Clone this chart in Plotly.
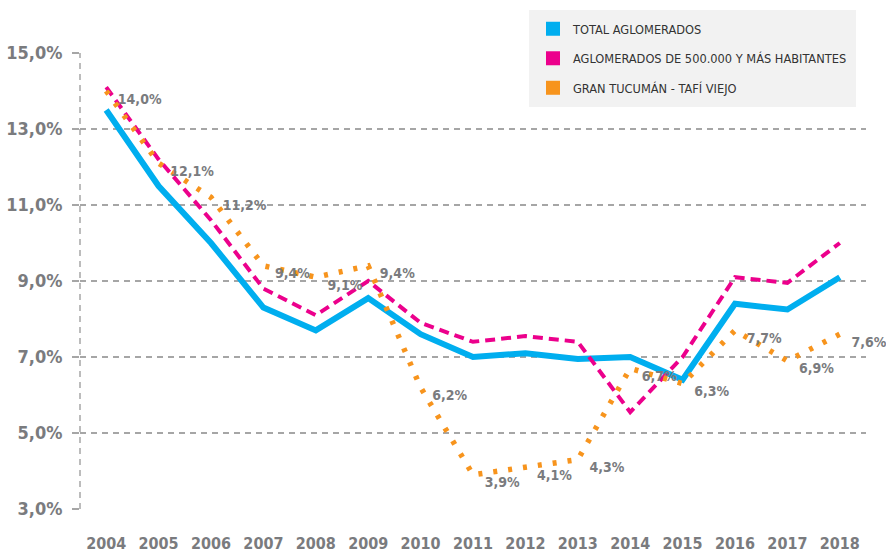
import plotly.graph_objects as go

PCT = chr(37)

years = ["2004", "2005", "2006", "2007", "2008", "2009", "2010", "2011",
         "2012", "2013", "2014", "2015", "2016", "2017", "2018"]
total_aglomerados = [13.5, 11.5, 10.0, 8.3, 7.7, 8.55, 7.6, 7.0, 7.1, 6.95, 7.0, 6.4, 8.4, 8.25, 9.1]
aglomerados_500k = [14.1, 12.2, 10.6, 8.8, 8.1, 9.0, 7.9, 7.4, 7.55, 7.4, 5.55, 7.0, 9.1, 8.95, 10.0]
gran_tucuman = [14.0, 12.1, 11.2, 9.4, 9.1, 9.4, 6.2, 3.9, 4.1, 4.3, 6.7, 6.3, 7.7, 6.9, 7.6]
series_names = ["TOTAL AGLOMERADOS", "AGLOMERADOS DE 500.000 Y MÁS HABITANTES",
                "GRAN TUCUMÁN - TAFÍ VIEJO"]
y_ticks = [3, 5, 7, 9, 11, 13, 15]


def fmt(v):
    return "{:.1f}".format(v).replace(".", ",") + PCT


# leading blank line nudges each label slightly below its point, as in the original
tucuman_labels = [" <br>" + fmt(v) for v in gran_tucuman]
y_tick_text = [fmt(v) for v in y_ticks]

BLUE = "#00aeef"
MAGENTA = "#ec008c"
ORANGE = "#f7941d"
GRAY_TXT = "#7a7b7e"
GRID = "#a6a6a6"
LEG_BG = "#f2f2f2"
FONT = "Liberation Sans Narrow, DejaVu Sans Condensed, Arial Narrow, sans-serif"

fig = go.Figure()

fig.add_trace(go.Scatter(x=years, y=total_aglomerados, mode="lines",
                         line=dict(color=BLUE, width=6), showlegend=False))
fig.add_trace(go.Scatter(x=years, y=aglomerados_500k, mode="lines",
                         line=dict(color=MAGENTA, width=4, dash="10px,6px"), showlegend=False))
fig.add_trace(go.Scatter(x=years, y=gran_tucuman, mode="lines",
                         line=dict(color=ORANGE, width=5.5, dash="4px,11px"), showlegend=False))
fig.add_trace(go.Scatter(x=years, y=gran_tucuman, mode="markers+text",
                         text=tucuman_labels, textposition="middle right",
                         marker=dict(size=17, color="rgba(0,0,0,0)"),
                         textfont=dict(family=FONT, size=14, color=GRAY_TXT, weight="bold"),
                         cliponaxis=False, showlegend=False, hoverinfo="skip"))

# legend entries (square swatches)
for name, col in zip(series_names, [BLUE, MAGENTA, ORANGE]):
    fig.add_trace(go.Scatter(x=[None], y=[None], mode="markers", name=name,
                             legendgroup=name,
                             marker=dict(symbol="square", size=14, color=col)))

fig.update_layout(
    width=886, height=556,
    margin=dict(l=80, r=20, t=53, b=47, autoexpand=False),
    paper_bgcolor="white", plot_bgcolor="white",
    shapes=[dict(type="line", xref="paper", yref="paper", x0=0, x1=0, y0=0, y1=1,
                 line=dict(color=GRID, width=1.5, dash="6px,5px"), layer="below")],
    legend=dict(x=(529 - 80) / 786, y=(509 - 10) / 456,
                xanchor="left", yanchor="top",
                bgcolor=LEG_BG, bordercolor=LEG_BG, borderwidth=4, tracegroupgap=10,
                font=dict(family=FONT, size=12.7, color="#333333")),
    xaxis=dict(type="category", range=[-0.5, 14.5], showgrid=False, showline=False,
               zeroline=False, ticks="outside", ticklen=0, ticklabelstandoff=20,
               automargin=False, tickangle=0,
               tickfont=dict(family=FONT, size=16, color=GRAY_TXT, weight="bold")),
    yaxis=dict(range=[3, 15], tickmode="array", tickvals=y_ticks, ticktext=y_tick_text,
               showgrid=True, gridcolor=GRID, gridwidth=1.5, griddash="6px,5px",
               zeroline=False, showline=False, ticks="outside", ticklen=7,
               tickcolor=GRID, tickwidth=1.5, ticklabelstandoff=6, automargin=False,
               tickfont=dict(family=FONT, size=18, color=GRAY_TXT, weight="bold")),
)

fig.write_html("out.html", config={"displayModeBar": False},
               post_script="document.body.style.margin='0px';")
